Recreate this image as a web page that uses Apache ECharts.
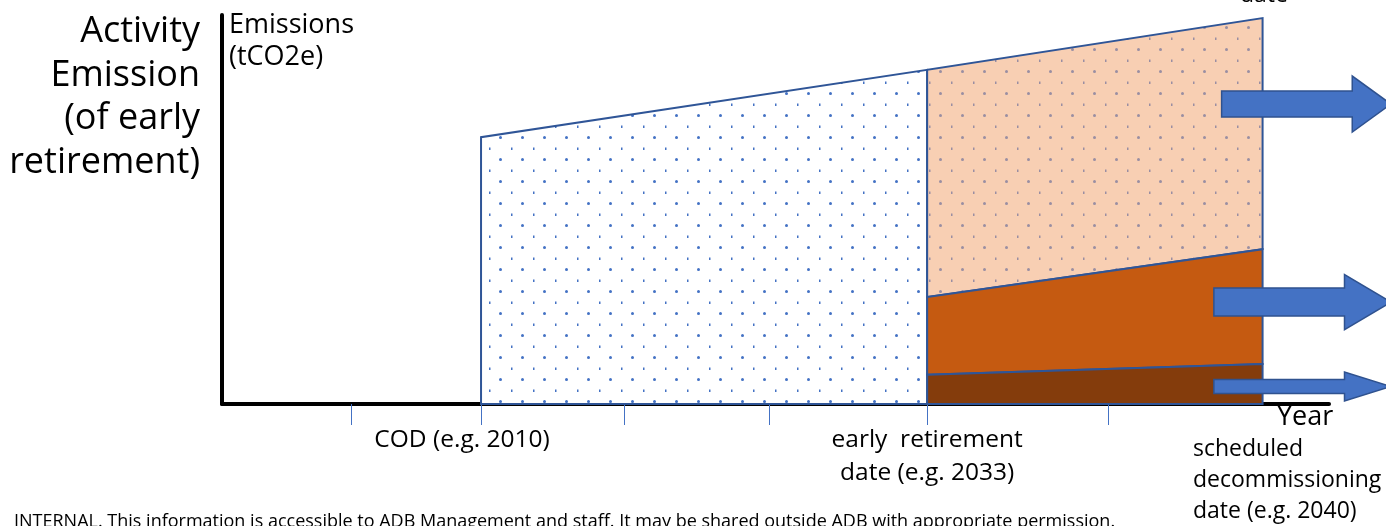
<!DOCTYPE html>
<html>
<head>
<meta charset="utf-8">
<script src="https://cdn.jsdelivr.net/npm/echarts@6/dist/echarts.min.js"></script>
<style>
html,body{margin:0;padding:0;background:#fff;}
#chart{width:1386px;height:526px;}
</style>
</head>
<body>
<div id="chart"></div>
<script>
// ---- data (schematic axis units: x 0..100 along the time axis, y 0..100 emissions) ----
const milestoneNames = ['COD (e.g. 2010)', 'early  retirement\ndate (e.g. 2033)', 'scheduled\ndecommissioning\ndate (e.g. 2040)'];
const milestoneX = [23.4, 63.7, 94.0];          // COD, early retirement, scheduled decommissioning
const tickX = [11.65, 23.4, 36.3, 49.4, 63.7, 80.1];
const totalEmission = [68.6, 85.9, 99.2];       // at COD, early retirement, decommissioning
const orangeTop = [27.5, 39.8];                 // at early retirement, decommissioning
const darkTop = [7.5, 10.3];                    // at early retirement, decommissioning
// arrows: [xStart, xHeadStart, xTip, yCenter, bodyHalf, headHalf]
const arrowStart = [90.3, 89.6, 89.6];
const arrowHead = [102.1, 101.4, 101.4];
const arrowTip = [105.6, 105.6, 105.6];
const arrowY = [77.1, 26.2, 4.5];
const arrowBody = [3.34, 3.6, 1.8];
const arrowHeadHalf = [7.2, 7.07, 3.73];

function dotPattern(bg, dot) {
  const c = document.createElement('canvas');
  c.width = 22; c.height = 22;
  const g = c.getContext('2d');
  if (bg) { g.fillStyle = bg; g.fillRect(0, 0, 22, 22); }
  g.fillStyle = dot;
  g.beginPath(); g.arc(16.5, 5.5, 1.5, 0, Math.PI * 2); g.fill();
  g.fillRect(5, 15.5, 1.5, 2.5);
  return {image: c, repeat: 'repeat'};
}

const regionFills = [
  dotPattern('#ffffff', '#4472c4'),
  dotPattern('#f8cfb3', '#9a8ea2'),
  '#c55a11',
  '#843c0c'
];
// [x0, x1, bottom0, bottom1, top0, top1]
const regions = [
  [milestoneX[0], milestoneX[1], 0, 0, totalEmission[0], totalEmission[1]],
  [milestoneX[1], milestoneX[2], orangeTop[0], orangeTop[1], totalEmission[1], totalEmission[2]],
  [milestoneX[1], milestoneX[2], darkTop[0], darkTop[1], orangeTop[0], orangeTop[1]],
  [milestoneX[1], milestoneX[2], 0, 0, darkTop[0], darkTop[1]]
];
const arrows = arrowStart.map((s, i) => [s, arrowHead[i], arrowTip[i], arrowY[i], arrowBody[i], arrowHeadHalf[i]]);

const FONT = '"Open Sans"';
const chart = echarts.init(document.getElementById('chart'));
chart.setOption({
  animation: false,
  grid: {left: 222, right: 57, top: 15, bottom: 122},
  xAxis: {
    type: 'value', min: 0, max: 100,
    splitLine: {show: false},
    axisLine: {lineStyle: {color: '#000', width: 4}},
    axisTick: {show: true, customValues: tickX, length: 21, lineStyle: {color: '#4472c4', width: 1}},
    axisLabel: {
      customValues: milestoneX.slice(0, 2),
      formatter: v => {
        const i = milestoneX.indexOf(v);
        return i === 0 ? '{cod|' + milestoneNames[0] + '}' : milestoneNames[i];
      },
      rich: {cod: {padding: [0, 38, 0, 0], fontFamily: 'Open Sans', fontSize: 24.5, lineHeight: 33, color: '#000'}},
      margin: 20, fontFamily: 'Open Sans', fontSize: 24.5, color: '#000', lineHeight: 33, align: 'center'
    }
  },
  yAxis: {
    type: 'value', min: 0, max: 100,
    splitLine: {show: false},
    axisLine: {show: true, lineStyle: {color: '#000', width: 4}},
    axisTick: {show: false}, axisLabel: {show: false}
  },
  series: [
    {
      type: 'custom', name: 'areas', data: regions, z: 2,
      renderItem: (params, api) => {
        const x0 = api.value(0), x1 = api.value(1);
        const pts = [
          api.coord([x0, api.value(2)]), api.coord([x1, api.value(3)]),
          api.coord([x1, api.value(5)]), api.coord([x0, api.value(4)])
        ];
        return {type: 'polygon', shape: {points: pts},
          style: {fill: regionFills[params.dataIndex], stroke: '#2f5597', lineWidth: 2}};
      }
    },
    {
      type: 'custom', name: 'arrows', data: arrows, z: 3, clip: false,
      renderItem: (params, api) => {
        const s = api.value(0), h = api.value(1), t = api.value(2), y = api.value(3), b = api.value(4), hh = api.value(5);
        const pts = [
          api.coord([s, y + b]), api.coord([h, y + b]), api.coord([h, y + hh]), api.coord([t, y]),
          api.coord([h, y - hh]), api.coord([h, y - b]), api.coord([s, y - b])
        ];
        return {type: 'polygon', shape: {points: pts},
          style: {fill: '#4472c4', stroke: '#2f528f', lineWidth: 1.5}};
      }
    }
  ],
  graphic: [
    {type: 'text', x: 200, y: 10, style: {text: 'Activity\nEmission\n(of early\nretirement)', align: 'right', verticalAlign: 'top',
      font: '36px ' + FONT, lineHeight: 43.5, fill: '#000'}},
    {type: 'text', x: 229, y: 9, style: {text: 'Emissions\n(tCO2e)', font: '27px ' + FONT, lineHeight: 32, fill: '#000', verticalAlign: 'top'}},
    {type: 'text', x: 1193, y: 434, style: {text: milestoneNames[2], font: '23px ' + FONT, lineHeight: 31, fill: '#000', verticalAlign: 'top'}},
    {type: 'text', x: 1277, y: 404, style: {text: 'Year', font: '27px ' + FONT, fill: '#000', verticalAlign: 'top'}},
    {type: 'text', x: 1240, y: -16, style: {text: 'date', font: '23px ' + FONT, fill: '#000', verticalAlign: 'top'}},
    {type: 'text', x: 14, y: 513, style: {text: 'INTERNAL. This information is accessible to ADB Management and staff. It may be shared outside ADB with appropriate permission.',
      font: '18px ' + FONT, fill: '#000', verticalAlign: 'top'}}
  ]
});
</script>
</body>
</html>
